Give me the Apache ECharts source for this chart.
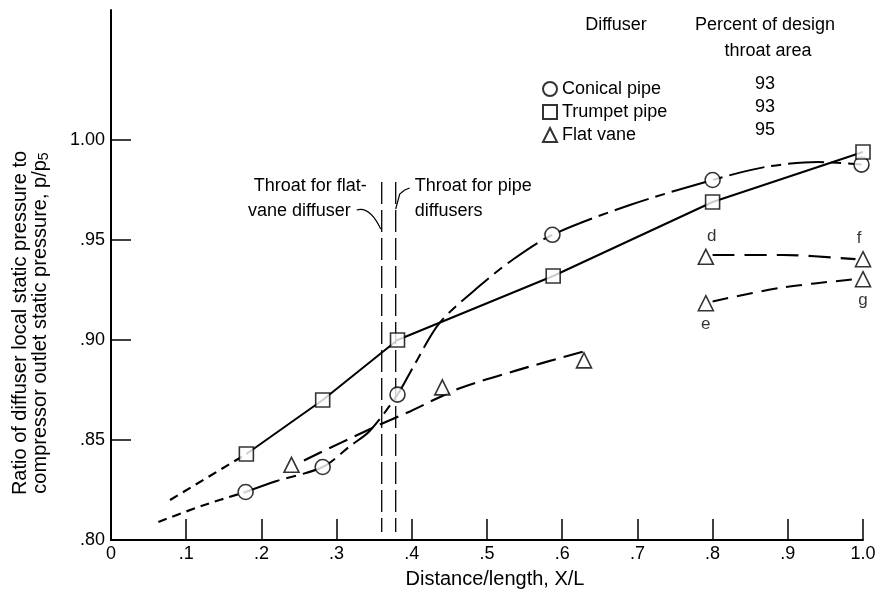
<!DOCTYPE html>
<html><head><meta charset="utf-8">
<script src="https://cdn.jsdelivr.net/npm/echarts@6/dist/echarts.min.js"></script>
<style>html,body{margin:0;padding:0;background:#fff}#c{width:882px;height:592px}</style>
</head><body><div id="c"></div>
<script>
const FONT = '"Liberation Sans", Arial, sans-serif';

// axis ticks
const xTickValues = [0, 0.1, 0.2, 0.3, 0.4, 0.5, 0.6, 0.7, 0.8, 0.9, 1.0];
const xTickLabels = ['0', '.1', '.2', '.3', '.4', '.5', '.6', '.7', '.8', '.9', '1.0'];
const yTickValues = [0.80, 0.85, 0.90, 0.95, 1.00];
const yTickLabels = ['.80', '.85', '.90', '.95', '1.00'];

// measured points
const conicalX = [0.179, 0.2815, 0.381, 0.587, 0.800, 0.998];
const conicalY = [0.824, 0.8365, 0.8727, 0.9526, 0.980, 0.9877];
const trumpetX = [0.180, 0.2815, 0.381, 0.588, 0.800, 1.000];
const trumpetY = [0.843, 0.870, 0.900, 0.932, 0.969, 0.994];
const flatX = [0.240, 0.4406, 0.629, 0.791, 1.000, 0.791, 1.000];
const flatY = [0.8376, 0.8763, 0.8898, 0.9416, 0.9404, 0.9184, 0.9304];
const flatTags = ['', '', '', 'd', 'f', 'e', 'g'];

// faired curves
const conicalExtX = [0.063, 0.120, 0.179];
const conicalExtY = [0.809, 0.817, 0.824];
const conicalCurveX = [0.179, 0.2203, 0.2815, 0.318, 0.344, 0.381, 0.402, 0.4375, 0.4907, 0.535, 0.587, 0.690, 0.800, 0.870, 0.940, 0.998];
const conicalCurveY = [0.824, 0.8295, 0.8365, 0.847, 0.8545, 0.8727, 0.8866, 0.9088, 0.9272, 0.9404, 0.9526, 0.9675, 0.980, 0.9865, 0.989, 0.9877];
const trumpetExtX = [0.0785, 0.180];
const trumpetExtY = [0.820, 0.843];
const flatCurveX = [0.2566, 0.344, 0.3976, 0.4619, 0.5395, 0.628];
const flatCurveY = [0.8398, 0.8554, 0.8643, 0.8756, 0.8848, 0.8942];
const dfCurveX = [0.800, 0.894, 0.990];
const dfCurveY = [0.9425, 0.9425, 0.9404];
const egCurveX = [0.800, 0.894, 0.990];
const egCurveY = [0.9193, 0.9263, 0.9304];

// throat positions
const throatFlatX = 0.360;
const throatPipeX = 0.3786;
const throatTopY = 0.979;
const throatBottomY = 0.804;

// legend table
const legendNames = ['Conical pipe', 'Trumpet pipe', 'Flat vane'];
const legendPercent = ['93', '93', '95'];

const zip = (xs, ys) => xs.map((x, i) => [x, ys[i]]);

const chart = echarts.init(document.getElementById('c'));

const lineBase = (name, data, type, width, smooth) => ({
  name, type: 'line', data, showSymbol: false, symbol: 'none',
  smooth: smooth || false,
  lineStyle: { color: '#000', width: width || 2, type: type || 'solid' },
  silent: true, z: 2
});

const option = {
  animation: false,
  backgroundColor: '#fff',
  textStyle: { fontFamily: FONT },
  grid: { left: 111, right: 19, top: 10, bottom: 52, outerBoundsMode: 'none' },
  xAxis: {
    type: 'value', min: 0, max: 1, interval: 0.1,
    axisLine: { lineStyle: { color: '#000', width: 2 } },
    axisTick: { inside: true, length: 21, lineStyle: { color: '#000', width: 1.5 } },
    splitLine: { show: false },
    axisLabel: {
      color: '#000', fontSize: 18, fontFamily: FONT, margin: 5,
      formatter: v => { const i = xTickValues.findIndex(t => Math.abs(t - v) < 1e-6); return i >= 0 ? xTickLabels[i] : ''; }
    },
    name: 'Distance/length, X/L', nameLocation: 'middle', nameGap: 29,
    nameTextStyle: { color: '#000', fontSize: 20, fontFamily: FONT, padding: [0, 0, 0, 16] }
  },
  yAxis: {
    type: 'value', min: 0.8, max: 1.065, interval: 0.05,
    axisLine: { lineStyle: { color: '#000', width: 2 } },
    axisTick: { inside: true, length: 20, lineStyle: { color: '#000', width: 1.5 }, customValues: yTickValues },
    splitLine: { show: false },
    axisLabel: {
      color: '#000', fontSize: 18, fontFamily: FONT, margin: 6, customValues: yTickValues,
      formatter: v => { const i = yTickValues.findIndex(t => Math.abs(t - v) < 1e-6); return i >= 0 ? yTickLabels[i] : ''; }
    }
  },
  legend: {
    data: legendNames, orient: 'vertical', left: 537, top: 75,
    itemWidth: 14, itemHeight: 14, itemGap: 5,
    textStyle: { color: '#000', fontSize: 18, fontFamily: FONT },
    selectedMode: false
  },
  series: [
    lineBase('trumpetExt', zip(trumpetExtX, trumpetExtY), [9, 6], 2.2),
    lineBase('trumpetLine', zip(trumpetX, trumpetY), 'solid', 2),
    lineBase('conicalExt', zip(conicalExtX, conicalExtY), [9, 6], 2.2, 0.3),
    lineBase('conicalCurve', zip(conicalCurveX, conicalCurveY), [36, 7, 10, 7], 2, 0.3),
    lineBase('flatCurve', zip(flatCurveX, flatCurveY), [20, 8], 2.2, 0.3),
    lineBase('dfCurve', zip(dfCurveX, dfCurveY), [22, 10], 2.2, 0.3),
    lineBase('egCurve', zip(egCurveX, egCurveY), [16, 9], 2, 0.3),
    lineBase('throatFlat', [[throatFlatX, throatTopY], [throatFlatX, throatBottomY]], [22, 6], 1.3),
    lineBase('throatPipe', [[throatPipeX, throatTopY], [throatPipeX, throatBottomY]], [22, 6], 1.3),
    {
      name: 'Conical pipe', type: 'scatter', data: zip(conicalX, conicalY),
      symbol: 'circle', symbolSize: 15, z: 5,
      itemStyle: { color: '#fff', borderColor: '#000', borderWidth: 1.6 }
    },
    {
      name: 'Trumpet pipe', type: 'scatter', data: zip(trumpetX, trumpetY),
      symbol: 'rect', symbolSize: 14, z: 6,
      itemStyle: { color: '#fff', borderColor: '#000', borderWidth: 1.6 }
    },
    {
      name: 'Flat vane', type: 'scatter',
      data: flatX.map((x, i) => {
        const tag = flatTags[i];
        const item = { value: [x, flatY[i]] };
        if (tag) {
          const above = (tag === 'd' || tag === 'f');
          item.label = {
            show: true, formatter: tag, position: above ? 'top' : 'bottom',
            distance: 4, color: '#000', fontSize: 17, fontFamily: FONT,
            offset: [tag === 'd' ? 6 : (tag === 'f' ? -4 : 0), 0]
          };
        }
        return item;
      }),
      symbol: 'triangle', symbolSize: 15, z: 5,
      itemStyle: { color: '#fff', borderColor: '#000', borderWidth: 1.6 }
    }
  ]
};
chart.setOption(option);

// annotations placed from data coordinates
const px = v => chart.convertToPixel({ gridIndex: 0 }, v);
const pF = px([throatFlatX, 0.977]);
const pP = px([throatPipeX, 0.977]);
const txt = (x, y, text, align, size) => ({
  type: 'text', x, y, silent: true,
  style: { text, fill: '#000', font: (size || 18) + 'px ' + FONT, textAlign: align || 'left', textVerticalAlign: 'middle' }
});
const graphics = [
  txt(pF[0] - 15, pF[1], 'Throat for flat-', 'right'),
  txt(pF[0] - 31, pF[1] + 25, 'vane diffuser', 'right'),
  {
    type: 'bezierCurve', silent: true,
    shape: { x1: pF[0] - 25, y1: pF[1] + 24, cpx1: pF[0] - 12, cpy1: pF[1] + 20, x2: pF[0] - 1, y2: pF[1] + 43 },
    style: { stroke: '#000', lineWidth: 1.2, fill: null }
  },
  txt(pP[0] + 19, pP[1], 'Throat for pipe', 'left'),
  txt(pP[0] + 19, pP[1] + 25, 'diffusers', 'left'),
  {
    type: 'polyline', silent: true,
    shape: { points: [[pP[0], pP[1] + 23], [pP[0] + 4, pP[1] + 8], [pP[0] + 9, pP[1] + 4], [pP[0] + 14, pP[1] + 2]] },
    style: { stroke: '#000', lineWidth: 1.2, fill: null }
  },
  // y axis title
  {
    type: 'text', x: 30, y: 323, rotation: Math.PI / 2, silent: true,
    style: {
      text: 'Ratio of diffuser local static pressure to\ncompressor outlet static pressure, p/p{s|5}',
      fill: '#000', font: '20px ' + FONT, textAlign: 'center', textVerticalAlign: 'middle', lineHeight: 20,
      rich: { s: { fontSize: 14, fontFamily: FONT, fill: '#000', padding: [9, 0, 0, 0] } }
    }
  },
  // legend table headers
  txt(616, 25, 'Diffuser', 'center'),
  txt(765, 25, 'Percent of design', 'center'),
  txt(768, 51, 'throat area', 'center')
];
legendPercent.forEach((p, i) => graphics.push(txt(765, 84 + i * 23, p, 'center')));
chart.setOption({ graphic: graphics });
</script>
</body></html>
